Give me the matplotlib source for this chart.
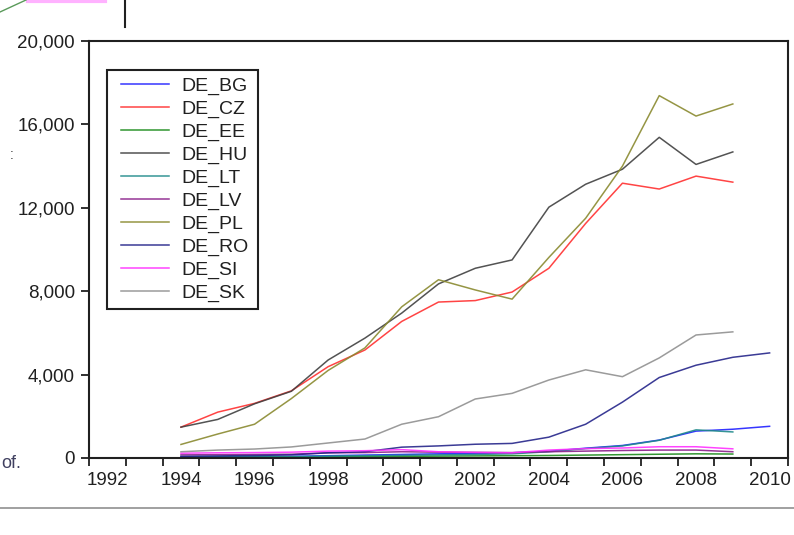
import matplotlib
matplotlib.use("Agg")
import matplotlib.pyplot as plt
from matplotlib.lines import Line2D
from matplotlib.patches import Rectangle
from matplotlib.ticker import FuncFormatter, FixedLocator
import numpy as np

plt.rcParams['font.family'] = ['Liberation Sans', 'DejaVu Sans']

years = list(range(1994, 2010))          # 1994..2009
years_ext = list(range(1994, 2011))      # 1994..2010

de_bg = [50, 60, 70, 80, 110, 140, 170, 200, 220, 250, 320, 470, 600, 860, 1290, 1380, 1520]
de_cz = [1480, 2200, 2620, 3220, 4380, 5180, 6550, 7480, 7550, 7960, 9100, 11250, 13180, 12900, 13520, 13230]
de_ee = [20, 30, 40, 50, 60, 70, 80, 90, 100, 110, 120, 140, 160, 180, 200, 190]
de_hu = [1480, 1850, 2600, 3200, 4700, 5750, 6950, 8350, 9100, 9500, 12030, 13130, 13850, 15380, 14080, 14680]
de_lt = [30, 40, 50, 60, 90, 110, 130, 150, 170, 200, 300, 450, 580, 850, 1350, 1250]
de_lv = [150, 160, 170, 180, 250, 260, 300, 280, 270, 260, 300, 330, 360, 380, 380, 300]
de_pl = [650, 1150, 1620, 2850, 4200, 5280, 7250, 8550, 8060, 7620, 9620, 11500, 14000, 17380, 16400, 16980]
de_ro = [80, 100, 120, 150, 250, 300, 520, 580, 660, 700, 1000, 1620, 2680, 3860, 4450, 4830, 5040]
de_si = [230, 250, 260, 280, 330, 350, 400, 300, 270, 250, 380, 450, 480, 540, 540, 440]
de_sk = [300, 380, 430, 530, 720, 910, 1620, 1980, 2830, 3100, 3740, 4230, 3900, 4800, 5900, 6050]

labels = ["DE_BG", "DE_CZ", "DE_EE", "DE_HU", "DE_LT", "DE_LV", "DE_PL", "DE_RO", "DE_SI", "DE_SK"]
series = [(years_ext, de_bg), (years, de_cz), (years, de_ee), (years, de_hu), (years, de_lt),
          (years, de_lv), (years, de_pl), (years_ext, de_ro), (years, de_si), (years, de_sk)]
colors = ["#2020ff", "#ff3030", "#1a8a1a", "#404040", "#208a8a",
          "#8a208a", "#8a8a30", "#25258a", "#ff30ff", "#909090"]

yticks = [0, 4000, 8000, 12000, 16000, 20000]
xlabel_years = list(range(1992, 2011, 2))

W, H = 794, 535
fig = plt.figure(figsize=(W/100, H/100), dpi=100)
ax = fig.add_axes([89/W, 1-458/H, (788-89)/W, (458-41)/H])

for (xs, ys), lab, c in zip(series, labels, colors):
    ax.plot(xs, ys, color=c, lw=1.1, label=lab, alpha=0.9)

ax.set_xlim(1991.5, 2010.5)
ax.set_ylim(0, 20000)
ax.set_yticks(yticks)
ax.yaxis.set_major_formatter(FuncFormatter(lambda v, p: f"{int(v):,}"))
ax.tick_params(axis='y', direction='out', length=6, width=1.3, labelsize=13.5, pad=4,
               colors='#202020', right=False)

ax.xaxis.set_major_locator(FixedLocator(xlabel_years))
ax.xaxis.set_minor_locator(FixedLocator(np.arange(1991.5, 2011, 1.0)))
ax.tick_params(axis='x', which='major', length=0, labelsize=13.5, pad=10, colors='#202020')
ax.tick_params(axis='x', which='minor', direction='out', length=6, width=1.3, color='#202020')
ax.tick_params(top=False, right=False)

for s in ax.spines.values():
    s.set_linewidth(1.5)
    s.set_color('#202020')

leg = ax.legend(loc='upper left', bbox_to_anchor=((107+7)/W, 1-70/H),
                bbox_transform=fig.transFigure, borderaxespad=0, fontsize=14,
                handlelength=2.5, handletextpad=0.6, labelspacing=0.27,
                borderpad=0.35, frameon=False)
for t in leg.get_texts():
    t.set_color('#202020')

fig.canvas.draw()
bb = leg.get_window_extent()
x0 = (bb.x0 - 7) / W
x1 = (bb.x1 + 3) / W
y0 = bb.y0 / H
y1 = bb.y1 / H
fig.add_artist(Rectangle((x0, y0), x1 - x0, y1 - y0, transform=fig.transFigure,
                         facecolor='white', edgecolor='#202020', lw=1.5, zorder=2.5))
leg.set_zorder(3)
fig.add_artist(leg)

# screenshot surroundings
fig.add_artist(Line2D([125/W, 125/W], [1.0, 1-27/H], color='#202020', lw=1.5))
fig.add_artist(Line2D([0, 1], [1-508/H, 1-508/H], color='#909090', lw=1.2))
fig.add_artist(Line2D([28/W, 105/W], [1-1/H, 1-1/H], color='#ff80ff', lw=3, alpha=0.6))
fig.add_artist(Line2D([0, 26/W], [1-12/H, 1.0], color='#5a9a5a', lw=1.0))
fig.text(1/W, 1-468/H, "of.", fontsize=13, color='#404060', ha='left', va='baseline')
fig.text(10/W, 1-155/H, ":", fontsize=10, color='#404040', ha='left', va='center')

fig.savefig("out.png", dpi=100)
